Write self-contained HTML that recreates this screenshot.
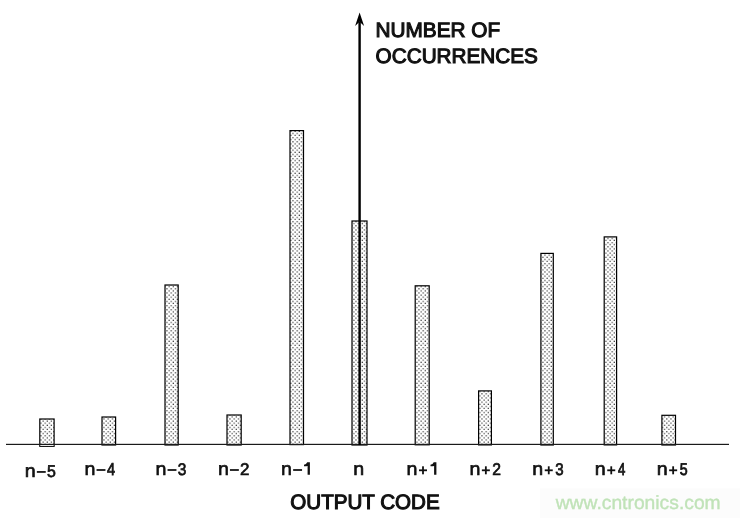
<!DOCTYPE html>
<html><head><meta charset="utf-8">
<style>
html,body{margin:0;padding:0;background:#fff;}
body{width:740px;height:518px;overflow:hidden;}
svg{display:block;will-change:transform;}
text{font-family:"Liberation Sans",sans-serif;text-rendering:geometricPrecision;}
</style></head>
<body>
<svg width="740" height="518" viewBox="0 0 740 518">
<defs>
<pattern id="dots" width="4.2" height="4.2" patternUnits="userSpaceOnUse">
<rect x="0.5" y="0.5" width="1.2" height="1.2" fill="#333"/>
<rect x="2.6" y="2.6" width="1.2" height="1.2" fill="#333"/>
</pattern>
</defs>
<rect width="740" height="518" fill="#fff"/>
<rect x="540" y="488.5" width="200" height="29.5" fill="#fcfcfc"/>
<g stroke="#000" stroke-width="1.2" fill="url(#dots)">
<rect x="39.8" y="419" width="14.3" height="27.3"/>
<rect x="102" y="417" width="13.6" height="28"/>
<rect x="165" y="285" width="13.2" height="160"/>
<rect x="227" y="415" width="14.2" height="30"/>
<rect x="290" y="130.6" width="13.5" height="314"/>
<rect x="352" y="221" width="15" height="224"/>
<rect x="415.2" y="285.8" width="14" height="159"/>
<rect x="478.6" y="390.9" width="12.8" height="54"/>
<rect x="540.9" y="253.4" width="12.4" height="191.6"/>
<rect x="604.2" y="236.9" width="12.4" height="208"/>
<rect x="661.9" y="415.3" width="13.6" height="29.7"/>
</g>
<rect x="40.4" y="445" width="13.1" height="0.8" fill="#fff"/>
<rect x="6" y="443.8" width="723" height="1.2" fill="#1a1a1a"/>
<rect x="358.4" y="22" width="2.4" height="423" fill="#000"/>
<path d="M359.6 12.6 L364.1 25.9 L359.6 21.8 L355.1 25.9 Z" fill="#000"/>
<g font-weight="normal" fill="#111" font-size="20.8" stroke="#111" stroke-width="1.10">
<text x="375.6" y="37.0" textLength="124.5" lengthAdjust="spacingAndGlyphs">NUMBER OF</text>
<text x="375.6" y="63.0" textLength="162.3" lengthAdjust="spacingAndGlyphs">OCCURRENCES</text>
<text x="290.3" y="509.0" textLength="149.4" lengthAdjust="spacingAndGlyphs">OUTPUT CODE</text>
</g>
<g font-weight="normal" fill="#111">
<text transform="translate(24.82 476.82) scale(1.0738 1)" font-size="18.31" stroke="#111" stroke-width="0.61">n</text>
<rect x="36.85" y="471.07" width="8.90" height="1.75" fill="#111"/>
<text transform="translate(47.09 476.76) scale(0.9377 1)" font-size="16.98" stroke="#111" stroke-width="0.69">5</text>
<text transform="translate(84.52 474.88) scale(1.0738 1)" font-size="18.31" stroke="#111" stroke-width="0.61">n</text>
<rect x="96.55" y="469.12" width="8.90" height="1.75" fill="#111"/>
<text transform="translate(107.09 474.88) scale(0.8540 1)" font-size="17.08" stroke="#111" stroke-width="0.76">4</text>
<text transform="translate(155.52 474.88) scale(1.0738 1)" font-size="18.31" stroke="#111" stroke-width="0.61">n</text>
<rect x="167.55" y="469.12" width="8.90" height="1.75" fill="#111"/>
<text transform="translate(177.83 474.81) scale(0.9262 1)" font-size="16.74" stroke="#111" stroke-width="0.70">3</text>
<text transform="translate(217.92 474.88) scale(1.0738 1)" font-size="18.31" stroke="#111" stroke-width="0.61">n</text>
<rect x="229.95" y="469.12" width="8.90" height="1.75" fill="#111"/>
<text transform="translate(239.97 474.98) scale(1.0024 1)" font-size="16.97" stroke="#111" stroke-width="0.65">2</text>
<text transform="translate(281.12 474.88) scale(1.0738 1)" font-size="18.31" stroke="#111" stroke-width="0.61">n</text>
<rect x="293.15" y="469.12" width="8.90" height="1.75" fill="#111"/>
<path d="M309.90 462.30 L309.90 474.80 L307.60 474.80 L307.60 466.00 L306.30 466.20 L304.00 466.30 L304.00 464.70 L306.00 464.10 L307.20 462.30 Z" fill="#111"/>
<text transform="translate(353.22 474.88) scale(1.0738 1)" font-size="18.31" stroke="#111" stroke-width="0.61">n</text>
<text transform="translate(406.57 474.88) scale(1.0738 1)" font-size="18.31" stroke="#111" stroke-width="0.61">n</text>
<rect x="419.00" y="469.40" width="8.0" height="1.8" fill="#111"/>
<rect x="422.10" y="466.30" width="1.8" height="8.0" fill="#111"/>
<path d="M436.40 462.30 L436.40 474.80 L434.10 474.80 L434.10 466.00 L432.80 466.20 L430.50 466.30 L430.50 464.70 L432.50 464.10 L433.70 462.30 Z" fill="#111"/>
<text transform="translate(469.42 474.88) scale(1.0738 1)" font-size="18.31" stroke="#111" stroke-width="0.61">n</text>
<rect x="481.85" y="469.40" width="8.0" height="1.8" fill="#111"/>
<rect x="484.95" y="466.30" width="1.8" height="8.0" fill="#111"/>
<text transform="translate(492.14 474.98) scale(0.9248 1)" font-size="16.97" stroke="#111" stroke-width="0.70">2</text>
<text transform="translate(532.32 474.88) scale(1.0738 1)" font-size="18.31" stroke="#111" stroke-width="0.61">n</text>
<rect x="544.75" y="469.40" width="8.0" height="1.8" fill="#111"/>
<rect x="547.85" y="466.30" width="1.8" height="8.0" fill="#111"/>
<text transform="translate(555.25 474.81) scale(0.9010 1)" font-size="16.74" stroke="#111" stroke-width="0.72">3</text>
<text transform="translate(594.82 474.88) scale(1.0738 1)" font-size="18.31" stroke="#111" stroke-width="0.61">n</text>
<rect x="607.25" y="469.40" width="8.0" height="1.8" fill="#111"/>
<rect x="610.35" y="466.30" width="1.8" height="8.0" fill="#111"/>
<text transform="translate(618.02 474.88) scale(0.7727 1)" font-size="17.08" stroke="#111" stroke-width="0.84">4</text>
<text transform="translate(656.72 474.88) scale(1.0738 1)" font-size="18.31" stroke="#111" stroke-width="0.61">n</text>
<rect x="669.15" y="469.40" width="8.0" height="1.8" fill="#111"/>
<rect x="672.25" y="466.30" width="1.8" height="8.0" fill="#111"/>
<text transform="translate(679.65 474.81) scale(0.8383 1)" font-size="16.98" stroke="#111" stroke-width="0.78">5</text>
</g>
<text x="555.7" y="509.2" font-size="19" fill="#c0e3b8" stroke="#c0e3b8" stroke-width="0.35" textLength="165" lengthAdjust="spacingAndGlyphs">www.cntronics.com</text>
</svg>
</body></html>
